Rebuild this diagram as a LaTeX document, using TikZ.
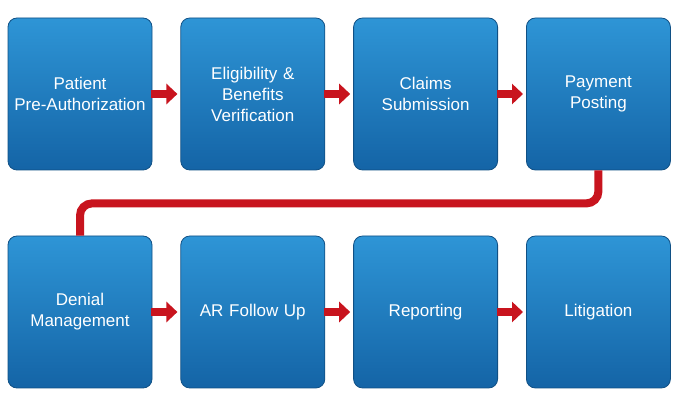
\documentclass[tikz,border=0pt]{standalone}
\usepackage{fontspec}
\setmainfont{Liberation Sans}
\usetikzlibrary{arrows.meta, positioning}
\definecolor{boxtop}{HTML}{2E95D6}
\definecolor{boxbot}{HTML}{1464A6}
\definecolor{linkred}{HTML}{C8141E}
\begin{document}
\begin{tikzpicture}[x=1pt, y=-1pt,
    stage/.style={draw=boxbot!80!black, line width=0.8pt, rounded corners=9pt,
        top color=boxtop, bottom color=boxbot, minimum width=144pt, minimum height=152pt,
        text width=136pt, align=center, text=white, font=\fontsize{17}{21}\selectfont},
    link/.style={linkred, line width=8pt, -{Triangle[length=11pt, width=20pt]}},
    backline/.style={linkred, line width=8pt, rounded corners=12pt}]
    \useasboundingbox (0,0) rectangle (680,411);
    \fill[white] (0,0) rectangle (680,411);

    % upper row
    \node[stage] (pre) at (80,94) {Patient\\Pre-Authorization};
    \node[stage, right=28pt of pre] (elig) {Eligibility \&\\Benefits\\Verification};
    \node[stage, right=28pt of elig] (claim) {Claims\\Submission};
    \node[stage, right=28pt of claim] (pay) {Payment\\Posting};

    % lower row
    \node[stage] (deny) at (80,312) {Denial\\Management};
    \node[stage, right=28pt of deny] (ar) {AR Follow Up};
    \node[stage, right=28pt of ar] (rep) {Reporting};
    \node[stage, right=28pt of rep] (lit) {Litigation};

    % arrows
    \draw[link, shorten <=-1pt, shorten >=3pt] (pre) -- (elig);
    \draw[link, shorten <=-1pt, shorten >=3pt] (elig) -- (claim);
    \draw[link, shorten <=-1pt, shorten >=3pt] (claim) -- (pay);
    \draw[link, shorten <=-1pt, shorten >=3pt] (deny) -- (ar);
    \draw[link, shorten <=-1pt, shorten >=3pt] (ar) -- (rep);
    \draw[link, shorten <=-1pt, shorten >=3pt] (rep) -- (lit);

    % return line
    \draw[backline] (pay.south) -- ++(0,33) -| (deny.north);
\end{tikzpicture}
\end{document}
